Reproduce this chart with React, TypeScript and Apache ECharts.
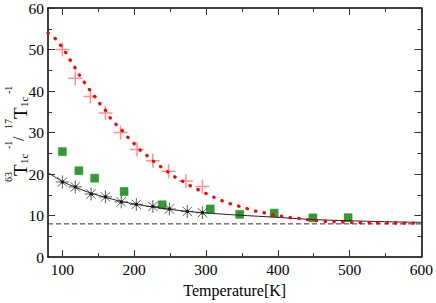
import React, { useEffect, useRef } from "react";
import * as echarts from "echarts";

const FONT = "'Liberation Serif', 'Times New Roman', 'DejaVu Serif', serif";

const xMajorTicks = [100, 200, 300, 400, 500, 600];
const xMinorTicks = [150, 250, 350, 450, 550];

// red dotted fit curve
const redCurve: [number, number][] = [
  [80, 54.0], [91, 52.5], [98.5, 50.8], [105, 49.2], [111.5, 47.3], [118, 45.5],
  [124, 43.8], [131, 42.0], [138, 40.3], [145, 38.7], [152, 37.0], [159.5, 35.5],
  [166, 33.7], [174, 32.1], [182.6, 30.6], [190.5, 29.0], [199, 27.5], [207.6, 25.9],
  [217, 24.6], [226, 23.2], [236, 21.9], [245.5, 20.7], [256, 19.4], [267, 18.3],
  [277, 17.3], [288.5, 16.3], [299, 15.4], [310, 14.5], [322, 13.6], [333, 12.9],
  [345, 12.3], [357, 11.7], [368.5, 11.1], [380.5, 10.7], [393, 10.2], [405.5, 9.83],
  [417.5, 9.5], [429.5, 9.3], [442, 9.0], [454.5, 8.76], [466.5, 8.6], [479, 8.5],
  [491.5, 8.42], [504, 8.33], [530, 8.25], [560, 8.2], [600, 8.15],
];

// red crosses
const redCrosses: [number, number][] = [
  [100, 50.0], [118, 43.1], [139, 38.7], [160, 34.7], [181, 30.0],
  [204, 25.9], [226, 23.2], [248, 20.7], [272, 18.3], [295, 17.0],
];

// green squares
const greenSquares: [number, number][] = [
  [100, 25.4], [123, 20.8], [145, 19.0], [186, 15.8], [239, 12.6],
  [306, 11.6], [347, 10.3], [395, 10.6], [449, 9.45], [498, 9.5],
];

// black asterisks
const blackStars: [number, number][] = [
  [100, 18.1], [118, 16.9], [140, 15.2], [160, 14.5], [182, 13.3],
  [203, 12.7], [226, 12.2], [249, 11.6], [274, 11.0], [295, 10.7],
];

// black solid fit curve
const blackCurve: [number, number][] = [
  [80, 20.4], [100, 18.2], [120, 16.7], [140, 15.4], [160, 14.4], [180, 13.5],
  [200, 12.8], [225, 12.1], [250, 11.5], [275, 11.0], [297, 10.66], [346, 10.1],
  [397, 9.6], [448, 9.06], [498, 8.76], [549, 8.53], [600, 8.37],
];

// dashed reference level
const dashedLevel: [number, number][] = [[80, 8.0], [600, 8.0]];

const CROSS = "path://M0,-1L0,1M-1,0L1,0";
const STAR = "path://M0,-1L0,1M-1,0L1,0M-0.72,-0.72L0.72,0.72M-0.72,0.72L0.72,-0.72";

export default function App() {
  const ref = useRef<HTMLDivElement>(null);
  useEffect(() => {
    if (!ref.current) return;
    const chart = echarts.init(ref.current, undefined, { renderer: "svg" });
    const tickStyle = { color: "#333", width: 1 };
    const axisLineStyle = { color: "#000", width: 1.5 };
    const xBase = { type: "value", min: 80, max: 600, splitLine: { show: false }, gridIndex: 0 };
    const labelStyle = { fontFamily: FONT, fontSize: 15.5, color: "#000" };
    const subT = (text: string, x: number, y: number, size: number) => ({
      type: "text",
      x,
      y,
      style: { text, fontFamily: FONT, fontSize: size, fill: "#000", align: "left", verticalAlign: "middle" },
    });
    chart.setOption({
      animation: false,
      textStyle: { fontFamily: FONT },
      grid: { left: 48, right: 13, top: 6, bottom: 35 },
      xAxis: [
        {
          ...xBase,
          position: "bottom",
          axisLine: { show: true, lineStyle: axisLineStyle },
          axisTick: { show: true, inside: true, length: 7, customValues: xMajorTicks, lineStyle: tickStyle },
          axisLabel: { show: true, customValues: xMajorTicks, margin: 4, ...labelStyle },
          name: "Temperature[K]",
          nameLocation: "middle",
          nameGap: 19,
          nameTextStyle: { fontFamily: FONT, fontSize: 16, color: "#000" },
        },
        {
          ...xBase,
          position: "bottom",
          axisLine: { show: false },
          axisTick: { show: true, inside: true, length: 4, customValues: xMinorTicks, lineStyle: tickStyle },
          axisLabel: { show: false },
        },
        {
          ...xBase,
          position: "top",
          axisLine: { show: true, lineStyle: axisLineStyle },
          axisTick: { show: true, inside: true, length: 7, customValues: xMajorTicks, lineStyle: tickStyle },
          axisLabel: { show: false },
        },
        {
          ...xBase,
          position: "top",
          axisLine: { show: false },
          axisTick: { show: true, inside: true, length: 4, customValues: xMinorTicks, lineStyle: tickStyle },
          axisLabel: { show: false },
        },
      ],
      yAxis: [
        {
          type: "value",
          min: 0,
          max: 60,
          interval: 10,
          position: "left",
          splitLine: { show: false },
          axisLine: { show: true, lineStyle: axisLineStyle },
          axisTick: { show: true, inside: true, length: 7, lineStyle: tickStyle },
          minorTick: { show: true, splitNumber: 2, length: 4, lineStyle: tickStyle },
          axisLabel: { show: true, margin: 4, ...labelStyle },
        },
        {
          type: "value",
          min: 0,
          max: 60,
          interval: 10,
          position: "right",
          splitLine: { show: false },
          axisLine: { show: true, lineStyle: axisLineStyle },
          axisTick: { show: true, inside: true, length: 7, lineStyle: tickStyle },
          minorTick: { show: true, splitNumber: 2, length: 4, lineStyle: tickStyle },
          axisLabel: { show: false },
        },
      ],
      graphic: [
        {
          type: "group",
          x: 0,
          y: 303,
          rotation: Math.PI / 2,
          children: [
            subT("63", 121, 8, 10),
            subT("T", 127, 20, 19),
            subT("1c", 139, 24, 11),
            subT("-1", 154, 8, 10),
            subT("/", 162, 18, 16),
            subT("17", 174, 8, 10),
            subT("T", 184, 20, 19),
            subT("1c", 196, 24, 11),
            subT("-1", 209, 8, 10),
          ],
        },
      ],
      series: [
        {
          type: "line",
          data: dashedLevel,
          showSymbol: false,
          silent: true,
          lineStyle: { color: "#4a1a48", width: 1, type: [5, 3] },
        },
        {
          type: "line",
          data: blackCurve,
          showSymbol: false,
          smooth: 0.3,
          lineStyle: { color: "#222", width: 1 },
        },
        {
          type: "line",
          data: redCurve,
          showSymbol: false,
          smooth: 0.3,
          lineStyle: { color: "#ff0000", width: 3.2, type: [0.5, 8.3], cap: "round" },
        },
        {
          type: "scatter",
          data: greenSquares,
          symbol: "rect",
          symbolSize: 8,
          itemStyle: { color: "#007f00", borderColor: "#1f8f1f", borderWidth: 0.6 },
        },
        {
          type: "scatter",
          data: redCrosses,
          symbol: CROSS,
          symbolSize: 14,
          itemStyle: { color: "transparent", borderColor: "rgba(255,70,70,0.75)", borderWidth: 1.5 },
        },
        {
          type: "scatter",
          data: blackStars,
          symbol: STAR,
          symbolSize: 13,
          itemStyle: { color: "transparent", borderColor: "#333", borderWidth: 1 },
        },
        {
          type: "scatter",
          data: blackStars,
          symbol: "rect",
          symbolSize: 3,
          itemStyle: { color: "#000" },
        },
      ],
    });
    return () => chart.dispose();
  }, []);
  return (
    <div
      ref={ref}
      style={{ position: "absolute", left: 0, top: 0, width: 436, height: 303 }}
    />
  );
}
